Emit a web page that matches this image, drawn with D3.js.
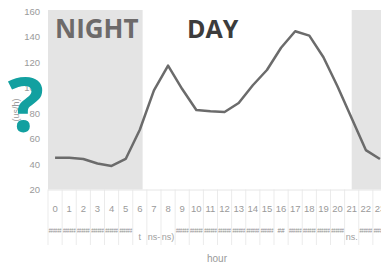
<!DOCTYPE html>
<html>
<head>
<meta charset="utf-8">
<script src="https://cdn.jsdelivr.net/npm/d3@7"></script>
<style>
  body { margin: 0; background: #fff; }
  svg text { font-family: "Liberation Sans Narrow", "Liberation Sans", sans-serif; }
</style>
</head>
<body>
<div id="chart"></div>
<script>
// values
var hours = ["0","1","2","3","4","5","6","7","8","9","10","11","12","13","14","15","16","17","18","19","20","21","22","23"];
var values = [45, 45, 44, 40.5, 38.5, 44, 67, 98, 117.5, 99, 82.5, 81.5, 81, 88, 102, 114, 131.5, 144.5, 141, 124, 101, 76, 51, 44];
var subLabels = ["######","######","######","######","######","######","t","ns-","ns)","######","######","######","######","######","######","######","##","######","######","######","######","ns.","######","######"];
var yTicks = [20, 40, 60, 80, 100, 120, 140, 160];
var nightSpans = [[-0.5, 6.2], [21, 23.5]];

var w = 381, h = 268;
var svg = d3.select('#chart').append('svg')
    .attr('width', w)
    .attr('height', h);

var x = d3.scaleBand().domain(hours).range([48, 387]).padding(0);
var xh = d3.scaleLinear().domain([-0.5, 23.5]).range([48, 387]);
var y = d3.scaleLinear().domain([20, 160]).range([189.5, 11.5]);

// night shading
svg.selectAll('rect.night')
    .data(nightSpans)
    .enter()
    .append('rect')
    .attr('class', 'night')
    .attr('x', function(d) { return xh(d[0]); })
    .attr('y', y(160) - 1.5)
    .attr('width', function(d) { return xh(d[1]) - xh(d[0]); })
    .attr('height', y(20) - y(160) + 1.5)
    .attr('fill', '#e4e4e4');

// category grid lines below axis
svg.selectAll('line.cat')
    .data(hours.concat(['end']))
    .enter()
    .append('line')
    .attr('x1', function(d, i) { return 48 + i * x.bandwidth(); })
    .attr('x2', function(d, i) { return 48 + i * x.bandwidth(); })
    .attr('y1', y(20))
    .attr('y2', 245)
    .attr('stroke', '#ebebeb')
    .attr('stroke-width', 1);

svg.append('line')
    .attr('x1', 48).attr('x2', w)
    .attr('y1', y(20) + 0.5).attr('y2', y(20) + 0.5)
    .attr('stroke', '#e6e6e6');

// y axis labels
var yAxis = d3.axisLeft(y).tickValues(yTicks).tickSize(0).tickPadding(0);
var gy = svg.append('g').attr('transform', 'translate(40,0)').call(yAxis);
gy.select('.domain').remove();
gy.selectAll('text')
    .attr('fill', '#9a9a9a')
    .style('font-size', '9.5px');

// x axis labels
var xAxis = d3.axisBottom(x).tickSize(0).tickPadding(0);
var gx = svg.append('g').attr('transform', 'translate(0,205)').call(xAxis);
gx.select('.domain').remove();
gx.selectAll('text')
    .attr('fill', '#9a9a9a')
    .style('font-size', '9.5px');

svg.selectAll('text.sub')
    .data(subLabels)
    .enter()
    .append('text')
    .attr('class', 'sub')
    .attr('x', function(d, i) { return x(hours[i]) + x.bandwidth() / 2; })
    .attr('y', function(d) { return d.charAt(0) === '#' ? 233 : 240; })
    .attr('text-anchor', 'middle')
    .attr('fill', function(d) { return d.charAt(0) === '#' ? '#8a8a8a' : '#a0a0a0'; })
    .attr('textLength', function(d) { return d === '######' ? x.bandwidth() - 1.5 : null; })
    .attr('lengthAdjust', 'spacingAndGlyphs')
    .style('font-size', function(d) { return d.charAt(0) === '#' ? '6.5px' : '9px'; })
    .text(function(d) { return d; });

// line
var line = d3.line()
    .x(function(d, i) { return x(hours[i]) + x.bandwidth() / 2; })
    .y(function(d) { return y(d); });

svg.append('path')
    .datum(values)
    .attr('d', line)
    .attr('fill', 'none')
    .attr('stroke', '#6b6b6b')
    .attr('stroke-width', 2.5)
    .attr('stroke-linejoin', 'round');

// titles
svg.append('text')
    .attr('x', 217).attr('y', 262)
    .attr('text-anchor', 'middle')
    .attr('fill', '#9a9a9a')
    .style('font-size', '10px')
    .text('hour');

svg.append('text')
    .attr('transform', 'translate(19,110) rotate(-90)')
    .attr('text-anchor', 'middle')
    .attr('fill', '#9a9a9a')
    .style('font-size', '9px')
    .text('(us/h)');

svg.append('text')
    .attr('x', 55).attr('y', 38)
    .attr('fill', '#6d6a6a')
    .style('font-family', '"Open Sans", sans-serif')
    .style('font-weight', 'bold')
    .style('font-size', '26px')
    .text('NIGHT');

svg.append('text')
    .attr('x', 187).attr('y', 38)
    .attr('fill', '#3c3c3c')
    .style('font-family', '"Open Sans", sans-serif')
    .style('font-weight', 'bold')
    .style('font-size', '25px')
    .text('DAY');

svg.append('text')
    .attr('x', 26).attr('y', 132)
    .attr('text-anchor', 'middle')
    .attr('fill', '#12a0a0')
    .style('font-family', '"Open Sans", sans-serif')
    .style('font-weight', 'bold')
    .style('font-size', '76px')
    .text('?');
</script>
</body>
</html>
